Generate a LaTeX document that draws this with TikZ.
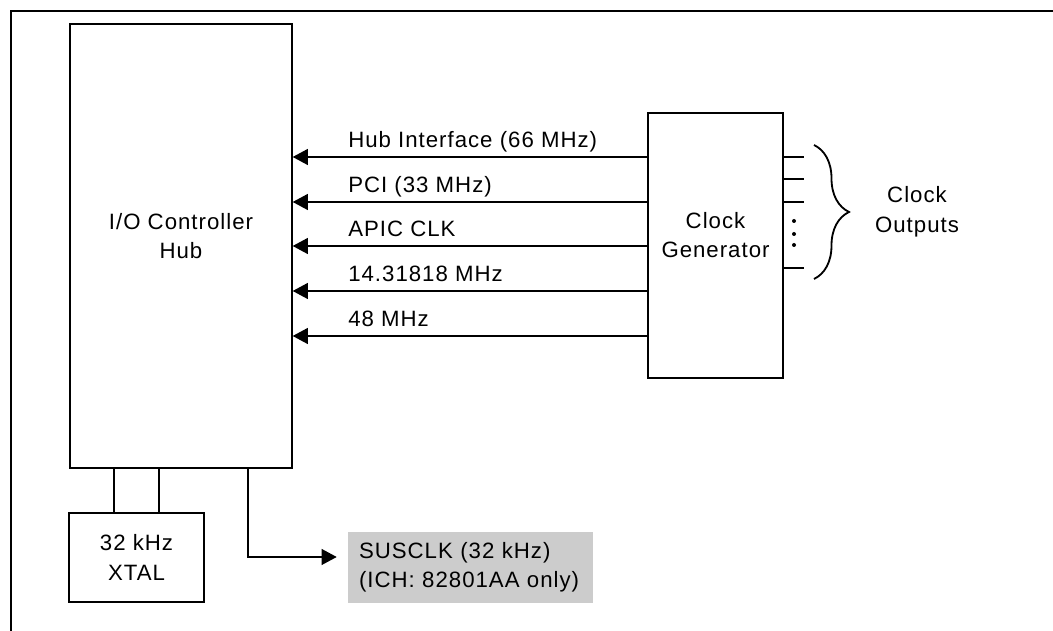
\documentclass[tikz,border=0pt]{standalone}
\usepackage{fontspec}
\setmainfont[LetterSpace=4.5]{Liberation Sans}
\usetikzlibrary{arrows.meta,decorations.pathreplacing,positioning}

\begin{document}
\begin{tikzpicture}[
  blk/.style={draw, line width=1pt, inner sep=0pt},
  txt/.style={font=\fontsize{15.8}{21}\selectfont, align=center},
  sig/.style={line width=1pt, -{Triangle[length=0.38cm,width=0.4cm]}},
  wire/.style={line width=1pt},
  frame/.style={line width=1.4pt}
]
\clip (0,0) rectangle (26.325,15.775);

% Figure frame
\draw[frame] (0.275,-1) -- (0.275,15.5) -- (27,15.5);

% ======= I/O Controller Hub =======
\node[blk, minimum width=5.55cm, minimum height=11.1cm] (ich) at (4.525,9.625) {};
\node[txt] (ichlbl) at (4.525,9.875) {I/O Controller\\Hub};

% ======= Clock Generator =======
\node[blk, minimum width=3.375cm, minimum height=6.625cm] (clkgen) at (17.8875,9.6375) {};
\node[txt] (genlbl) at (17.8875,9.9) {Clock\\Generator};

% ======= XTAL + SUSCLK =======
\node[blk, txt, minimum width=3.375cm, minimum height=2.225cm] (xtal) at (3.4125,1.8375) {32 kHz\\XTAL};
\node[txt, fill=black!20, align=left, inner xsep=0.275cm, inner ysep=0pt,
      text width=5.575cm, minimum height=1.775cm] (susclk) at (11.7625,1.5875)
      {SUSCLK (32 kHz)\\(ICH: 82801AA only)};

% ======= Clock lines into the hub =======
\foreach \y/\lbl [count=\i] in {11.85/{Hub Interface (66 MHz)}, 10.725/{PCI (33 MHz)},
    9.625/{APIC CLK}, 8.5/{14.31818 MHz}, 7.375/{48 MHz}} {
  \coordinate (src\i) at (clkgen.west |- 0,\y);
  \draw[sig] (src\i) -- (ich.east |- src\i);
  \node[txt, anchor=base west, inner sep=0pt] (clk\i) at (8.7,\y+0.225) {\lbl};
}

% ======= Clock outputs =======
\foreach \y [count=\i] in {11.85,11.3,10.725,9.075} {
  \coordinate (out\i) at (20.1,\y);
  \draw[wire] (clkgen.east |- out\i) -- (out\i);
}
\foreach \y in {10.25,9.925,9.65}
  \fill (19.85,\y) circle (0.05);
\draw[line width=1.3pt, decorate, decoration={brace, amplitude=0.875cm}] (20.35,12.15) -- (20.35,8.8);
\node[txt] (outlbl) at (22.925,10.475) {Clock\\Outputs};

% ======= XTAL pins, SUSCLK =======
\foreach \x in {2.85,3.975}
  \draw[wire] (xtal.north -| \x,0) -- (ich.south -| \x,0);
\coordinate (suspin) at (ich.south -| 6.2,0);
\draw[sig] (suspin) |- ([xshift=-0.275cm, yshift=0.2625cm]susclk.west);

\end{tikzpicture}
\end{document}
